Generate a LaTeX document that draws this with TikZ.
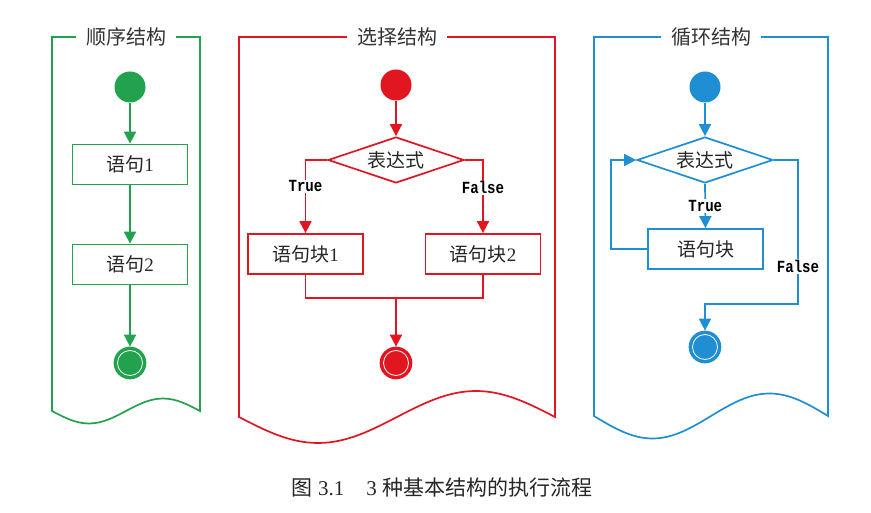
\documentclass[tikz,border=0pt]{standalone}
\usepackage{fontspec}
\setmainfont{Liberation Serif}
\newfontfamily\cjk{Noto Sans CJK SC}
\newfontfamily\monob[FakeStretch=0.83]{Liberation Mono}
\usetikzlibrary{arrows.meta,shapes.geometric,positioning}
\definecolor{gcol}{RGB}{34,162,78}
\definecolor{rcol}{RGB}{226,22,32}
\definecolor{bcol}{RGB}{32,142,210}
\newcommand{\lblsize}{\fontsize{19}{19}\selectfont}

\begin{document}
\begin{tikzpicture}[x=1pt,y=-1pt,>={Triangle[width=12pt,length=12pt]},line width=1.7pt,
    box/.style={draw,rectangle,fill=white,text=black!85,minimum width=115pt,minimum height=40pt,inner sep=0pt,font=\lblsize},
    cond/.style={draw,diamond,aspect=3,inner sep=0pt,minimum width=136pt,minimum height=46pt,fill=white,text=black!85,font=\cjk\lblsize},
    begin/.style={circle,fill,inner sep=0pt,minimum size=31pt},
    finish/.style={circle,draw,fill,inner sep=0pt,minimum size=31pt},
    tf/.style={fill=white,inner sep=1pt,text=black,font=\monob\bfseries\fontsize{17}{17}\selectfont},
    title/.style={fill=white,inner xsep=10pt,inner ysep=2pt,text=black!80,font=\cjk\fontsize{20}{20}\selectfont}]

    \useasboundingbox (0,0) rectangle (871,513);

    % frames with wavy bottom
    \foreach \lx/\rx/\by/\amp/\col/\ttl [
        evaluate = \lx as \qw using {(\rx-\lx)/4},
        evaluate = \lx as \mx using {(\lx+\rx)/2}
    ] in {52/200/411/12.5/gcol/顺序结构, 239/555/417/26/rcol/选择结构, 594/828/416/22.5/bcol/循环结构}{
        \draw[\col] (\rx,\by) -- (\rx,37) -- (\lx,37) -- (\lx,\by)
            sin (\lx+\qw,\by+\amp) cos (\mx,\by) sin (\mx+\qw,\by-\amp) cos (\rx,\by) -- cycle;
        \node[title] (t\col) at (\mx,37) {\ttl};
    }

    % sequence
    \begin{scope}[color=gcol]
        \node[begin] (g0) at (130,87) {};
        \node[box] (g1) at (130,164.5) {{\cjk 语句}1};
        \node[box] (g2) at (130,264.5) {{\cjk 语句}2};
        \node[finish] (g3) at (130,363) {};
        \draw[white,line width=0.8pt] (g3) circle (12.5pt);

        \draw[->] (g0) -- (g1);
        \draw[->] (g1) -- (g2);
        \draw[->] (g2) -- (g3);
    \end{scope}

    % selection
    \begin{scope}[color=rcol]
        \node[begin] (r0) at (396,85) {};
        \node[cond] (rc) at (396,160) {表达式};
        \node[box] (r1) at (305.5,254) {{\cjk 语句块}1};
        \node[box] (r2) at (483,254) {{\cjk 语句块}2};
        \node[finish] (r3) at (396,363) {};
        \draw[white,line width=0.8pt] (r3) circle (12.5pt);
        \coordinate (rm) at (396,298);

        \draw[->] (r0) -- (rc);
        \draw[->] (rc.west) -| node[tf,pos=0.68]{True} (r1.north);
        \draw[->] (rc.east) -| node[tf,pos=0.69]{False} (r2.north);
        \draw (r1.south) |- (rm) -| (r2.south);
        \draw[->] (rm) -- (r3);
    \end{scope}

    % loop
    \begin{scope}[color=bcol]
        \node[begin] (b0) at (705,87) {};
        \node[cond] (bc) at (705,160) {表达式};
        \node[box] (b1) at (705.5,249) {\cjk 语句块};
        \node[finish] (b3) at (705,347) {};
        \draw[white,line width=0.8pt] (b3) circle (12.5pt);
        \coordinate (bj) at (798,304);

        \draw[->] (b0) -- (bc);
        \draw[->] (bc.south) -- node[tf]{True} (b1.north);
        \draw[->] (b1.west) -- ++(-36,0) |- (bc.west);
        \draw[->] (bc.east) -| node[tf,pos=0.87]{False} (bj) -| (b3.north);
    \end{scope}

    \node[text=black!85,font=\fontsize{21}{21}\selectfont] (cap) at (442,488)
        {{\cjk 图} 3.1\hspace{22pt}3 {\cjk 种基本结构的执行流程}};

\end{tikzpicture}
\end{document}
